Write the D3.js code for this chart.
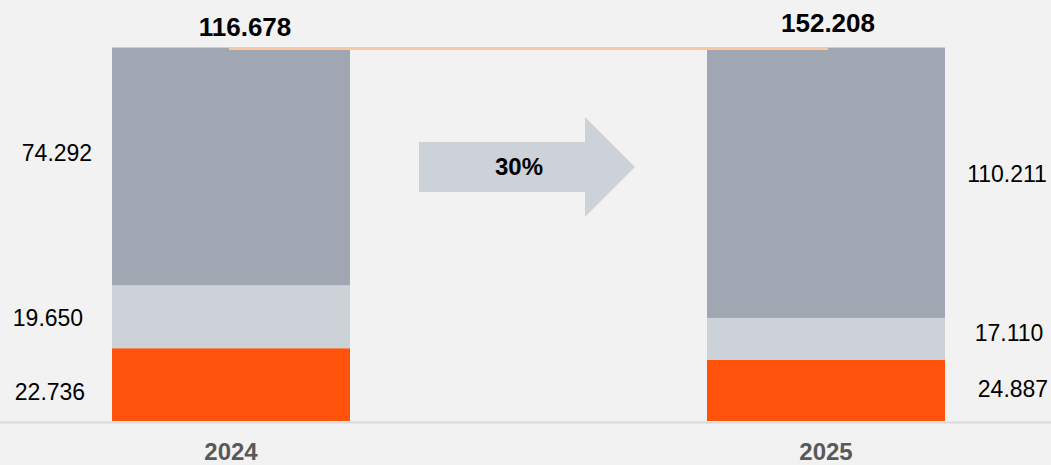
<!DOCTYPE html>
<html><head><meta charset="utf-8">
<script src="https://cdn.jsdelivr.net/npm/d3@7"></script>
<style>
html,body{margin:0;padding:0;background:#f2f2f2;}
svg{display:block;font-family:"Liberation Sans",Arial,sans-serif;}
</style></head>
<body><svg id="c" width="1051" height="465"></svg>
<script>
const years = ["2024", "2025"];
const seriesNames = ["base", "middle", "top"];
const baseValues = [22.736, 24.887];
const middleValues = [19.650, 17.110];
const topValues = [74.292, 110.211];
const totals = [116.678, 152.208];
const growthLabel = "30%";
const colors = ["#ff520a", "#cdd1d8", "#a1a7b2"];

const W = 1051, H = 465;
const svg = d3.select("#c");
svg.append("rect").attr("width", W).attr("height", H).attr("fill", "#f2f2f2");

const fmt = v => v.toFixed(3);
const rows = years.map((y, i) => ({year: y, base: baseValues[i], middle: middleValues[i], top: topValues[i], total: totals[i]}));

const stack = d3.stack().keys(seriesNames).offset(d3.stackOffsetExpand);
const layers = stack(rows);

// bar centres
const xc = d3.scalePoint().domain(years).range([231, 826]);
const bw = 238;
const xl = d => xc(d) - bw / 2;
const y = d3.scaleLinear().domain([0, 1]).range([421, 47.5]);

// bars
layers.forEach((layer, li) => {
  svg.append("g").selectAll("rect").data(layer).join("rect")
    .attr("x", d => xl(d.data.year))
    .attr("y", d => y(d[1]))
    .attr("width", bw)
    .attr("height", d => y(d[0]) - y(d[1]))
    .attr("fill", colors[li]);
});

// axis baseline
svg.append("line").attr("x1", 0).attr("x2", W).attr("y1", 422.5).attr("y2", 422.5)
  .attr("stroke", "#d9d9d9").attr("stroke-width", 2);

// year labels
svg.append("g").selectAll("text").data(years).join("text")
  .attr("x", d => xc(d)).attr("y", 459.5)
  .attr("text-anchor", "middle").attr("font-size", 24).attr("font-weight", "bold")
  .attr("fill", "#595959").text(d => d);

// connecting line between totals
svg.append("line")
  .attr("x1", xc(years[0]) - 2).attr("x2", xc(years[1]) + 2)
  .attr("y1", y(1) + 1).attr("y2", y(1) + 1)
  .attr("stroke", "#fdc8a0").attr("stroke-width", 3);

// total labels
const totalNudge = [{dx: 14, y: 36}, {dx: 2, y: 32}];
svg.append("g").selectAll("text").data(rows).join("text")
  .attr("x", (d, i) => xc(d.year) + totalNudge[i].dx)
  .attr("y", (d, i) => totalNudge[i].y)
  .attr("text-anchor", "middle").attr("font-size", 26).attr("font-weight", "bold")
  .attr("fill", "#000").text(d => fmt(d.total));

// segment labels: left of first bar, right of second bar
const labelNudge = [
  [{dx: 0, dy: 7}, {dx: 4, dy: -2}],   // base
  [{dx: -2, dy: 1}, {dx: 0, dy: -6}],  // middle
  [{dx: 7, dy: -13}, {dx: -2, dy: -9}] // top
];
layers.forEach((layer, li) => {
  svg.append("g").selectAll("text").data(layer).join("text")
    .attr("x", (d, i) => (i === 0 ? xl(d.data.year) - 62 : xl(d.data.year) + bw + 64) + labelNudge[li][i].dx)
    .attr("y", (d, i) => (y(d[0]) + y(d[1])) / 2 + labelNudge[li][i].dy)
    .attr("dy", "0.35em")
    .attr("text-anchor", "middle").attr("font-size", 23)
    .attr("fill", "#000").text(d => fmt(d.data[seriesNames[li]]));
});

// growth arrow between bars
const ax0 = xl(years[0]) + bw + 69, ax1 = xl(years[1]) - 72;
const ay = 167;
const headStart = ax1 - 50;
svg.append("path")
  .attr("d", `M${ax0},${ay - 25}L${headStart},${ay - 25}L${headStart},${ay - 50}L${ax1},${ay}L${headStart},${ay + 50}L${headStart},${ay + 25}L${ax0},${ay + 25}Z`)
  .attr("fill", "#cdd1d8");
svg.append("text").attr("x", (ax0 + ax1) / 2 - 8).attr("y", ay).attr("dy", "0.35em")
  .attr("text-anchor", "middle").attr("font-size", 24).attr("font-weight", "bold")
  .attr("fill", "#000").text(growthLabel);
</script></body></html>
